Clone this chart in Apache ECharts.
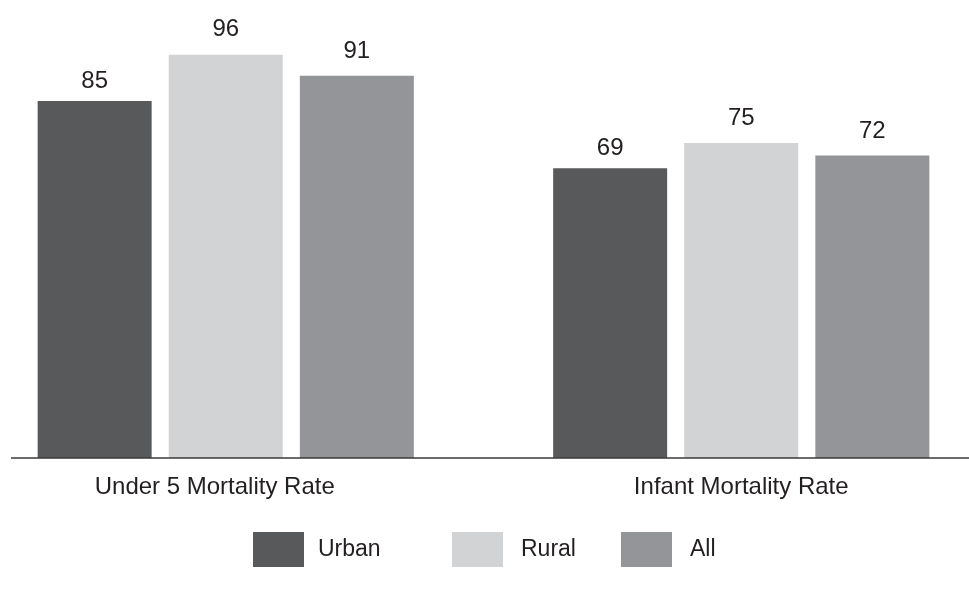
<!DOCTYPE html>
<html>
<head>
<meta charset="utf-8">
<script src="https://cdn.jsdelivr.net/npm/echarts@6/dist/echarts.min.js"></script>
<style>
  html, body { margin: 0; padding: 0; background: #fff; }
  #chart { width: 969px; height: 589px; }
</style>
</head>
<body>
<div id="chart"></div>
<script>
const categories = ['Under 5 Mortality Rate', 'Infant Mortality Rate']
const seriesNames = ['Urban', 'Rural', 'All']
const urban = [85, 69]
const rural = [96, 75]
const all = [91, 72]

const colors = ['#58595b', '#d1d3d4', '#939598']
const textColor = '#231f20'
const font = "'Liberation Sans', Arial, Helvetica, sans-serif"

const chart = echarts.init(document.getElementById('chart'), null, { renderer: 'canvas' })

// one legend per item, the gaps in the original are not even
const legendLefts = [253, 452, 621]
const legendPads = [9, 13, 13]
// value labels sit a bit higher over the lighter bars
const labelDist = [8, 13, 12]

const option = {
  animation: false,
  backgroundColor: '#fff',
  textStyle: { fontFamily: font },
  grid: { left: -32, right: -30, top: 38, bottom: 131, outerBoundsMode: 'none', containLabel: false },
  legend: seriesNames.map((name, i) => ({
    data: [name],
    left: legendLefts[i],
    top: 532,
    padding: 0,
    icon: 'rect',
    itemWidth: 51,
    itemHeight: 35,
    selectedMode: false,
    textStyle: {
      fontFamily: font,
      fontSize: 23,
      color: textColor,
      padding: [0, 0, 0, legendPads[i]]
    }
  })),
  xAxis: {
    type: 'category',
    data: categories,
    axisLine: { show: false },
    axisTick: { show: false },
    axisLabel: {
      margin: 17,
      fontFamily: font,
      fontSize: 24,
      color: textColor,
      // first label is set a little left of its group in the original
      formatter: (value, idx) => idx === 0 ? '{shift|' + value + '}' : value,
      rich: {
        shift: {
          fontFamily: font,
          fontSize: 24,
          color: textColor,
          padding: [0, 22, 0, 0]
        }
      }
    }
  },
  yAxis: {
    type: 'value',
    min: 0,
    max: 100,
    show: false,
    splitLine: { show: false }
  },
  series: [urban, rural, all].map((values, i) => ({
    name: seriesNames[i],
    type: 'bar',
    data: values,
    barWidth: 114,
    barGap: '15%',
    itemStyle: { color: colors[i] },
    label: {
      show: true,
      position: 'top',
      distance: labelDist[i],
      fontFamily: font,
      fontSize: 24,
      color: textColor
    }
  }))
}

chart.setOption(option)

// baseline, starts a little inside the left edge like the original
const zeroY = chart.convertToPixel({ yAxisIndex: 0 }, 0)
chart.setOption({
  graphic: [{
    type: 'line',
    shape: { x1: 11, y1: zeroY, x2: 969, y2: zeroY },
    style: { stroke: '#3a3a3a', lineWidth: 1.5 },
    z: 10
  }]
})
</script>
</body>
</html>
